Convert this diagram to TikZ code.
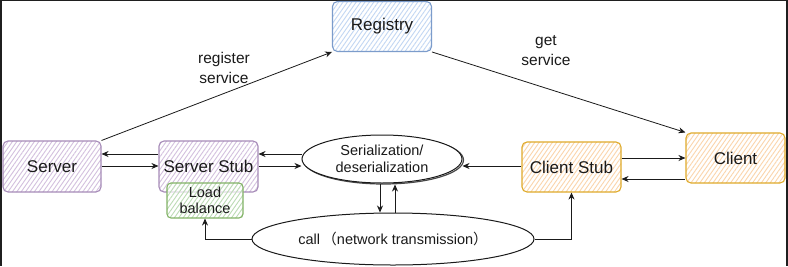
\documentclass[tikz,border=0pt]{standalone}
\usepackage{fontspec}
\setmainfont{Liberation Sans}
\newfontfamily\cjkfont{Noto Sans CJK SC}
\usetikzlibrary{arrows.meta,patterns.meta,shapes.geometric}

\definecolor{frame}{HTML}{1F1F1F}
\definecolor{purpleline}{HTML}{A68BB8}
\definecolor{purplehatch}{HTML}{D3C0DE}
\definecolor{blueline}{HTML}{7C9CCB}
\definecolor{bluehatch}{HTML}{C2D7F3}
\definecolor{greenline}{HTML}{82B366}
\definecolor{greenhatch}{HTML}{BCDBB5}
\definecolor{orangeline}{HTML}{DFAA2A}
\definecolor{orangehatch}{HTML}{FBD5AC}
\definecolor{ink}{HTML}{1A1A1A}

\tikzset{
  box/.style={draw, rounded corners=5pt, line width=1.1pt, inner sep=0pt,
    minimum width=99pt, minimum height=50pt, text=ink,
    font=\fontsize{17}{20}\selectfont,
    preaction={fill=white},
    pattern={Lines[angle=55,distance=3.6pt,line width=0.9pt]}},
  purplebox/.style={box, draw=purpleline, pattern color=purplehatch},
  bluebox/.style={box, draw=blueline, pattern color=bluehatch},
  orangebox/.style={box, draw=orangeline, pattern color=orangehatch},
  greenbox/.style={draw=greenline, rounded corners=4pt, line width=1.1pt, inner sep=0pt,
    minimum width=76pt, minimum height=35pt, align=center, text=ink,
    font=\fontsize{14.5}{16}\selectfont,
    preaction={fill=white, fill opacity=0.7},
    pattern={Lines[angle=55,distance=3.6pt,line width=0.9pt]}, pattern color=greenhatch},
  oval/.style={ellipse, draw=ink, line width=1pt, inner sep=0pt, fill=white,
    align=center, text=ink, font=\fontsize{14.5}{16.5}\selectfont},
  arr/.style={-{Stealth[length=7pt,width=6pt]}, line width=0.8pt, draw=ink},
  lbl/.style={align=center, text=ink, font=\fontsize{15.5}{20}\selectfont}
}

\begin{document}
\begin{tikzpicture}[x=1pt,y=-1pt]
  % dark surround and white canvas
  \fill[frame] (0,0) rectangle (788,266);
  \fill[white] (2,1) rectangle (786,266);
  \useasboundingbox (0,0) rectangle (788,266);

  % helper rows and columns
  \coordinate (r154) at (0,154);
  \coordinate (r158) at (0,158);
  \coordinate (r166) at (0,166);
  \coordinate (r179) at (0,179);
  \coordinate (c380) at (380,0);
  \coordinate (c395) at (395,0);

  % boxes
  \node[bluebox] (reg) at (382,26.5) {Registry};
  \node[purplebox, minimum width=98pt, minimum height=51pt] (server) at (52,166.5) {Server};
  \node[purplebox, minimum height=51pt] (sstub) at (208.5,166.5) {Server Stub};
  \node[greenbox] (load) at (205,200.5) {Load\\balance};
  \node[orangebox] (cstub) at (571.5,167) {Client Stub};
  \node[orangebox] (client) at (735.5,158) {Client};

  % ovals
  \node[ellipse, draw=ink!80, line width=1.2pt, minimum width=160pt, minimum height=48pt]
    at (383.5,160) {};
  \node[oval, minimum width=160pt, minimum height=48pt] (ser) at (382,159)
    {Serialization/\\deserialization};
  \node[oval, minimum width=282pt, minimum height=52pt] (call) at (393,239)
    {call\,{\cjkfont （}network transmission{\cjkfont ）}};

  % registry links
  \draw[arr] (server.north east) -- (reg.south west);
  \draw[arr] (reg.south east) -- (client.north west);
  \node[lbl] (lreg) at (224,68) {register\\service};
  \node[lbl] (lget) at (546,51) {get\\service};

  % server side
  \draw[arr] (sstub.west |- r154) -- (server.east |- r154);
  \draw[arr] (server.east |- r166) -- (sstub.west |- r166);
  \draw[arr] (ser.west |- r154) -- (sstub.east |- r154);
  \draw[arr] (sstub.east |- r166) -- (ser.west |- r166);

  % client side
  \draw[arr] (cstub.west |- r166) -- (ser.east |- r166);
  \draw[arr] (cstub.east |- r158) -- (client.west |- r158);
  \draw[arr] (client.west |- r179) -- (cstub.east |- r179);

  % network round trip
  \draw[arr] (ser.south -| c380) -- (call.north -| c380);
  \draw[arr] (call.north -| c395) -- ([yshift=-1pt]ser.south -| c395);
  \draw[arr] (call.west) -| (load.south);
  \draw[arr] (call.east) -| (cstub.south);
\end{tikzpicture}
\end{document}
